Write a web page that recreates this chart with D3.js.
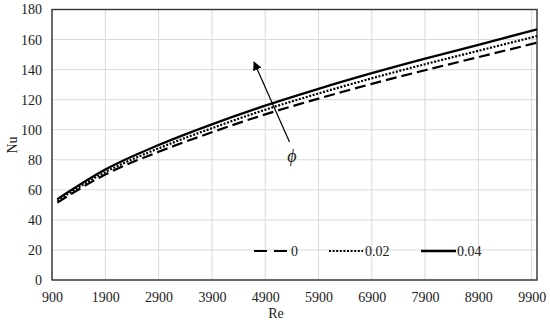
<!DOCTYPE html>
<html>
<head>
<meta charset="utf-8">
<script src="https://cdn.jsdelivr.net/npm/d3@7"></script>
<style>
  body { margin: 0; background: #fff; }
  svg text { font-family: 'Liberation Serif', serif; fill: #222; }
</style>
</head>
<body>
<div id="chart"></div>
<script>
// Reynolds number sample points
const re = [1000, 1900, 2900, 3900, 4900, 5900, 6900, 7900, 8900, 10000];
// Nu for each volume fraction phi
const nu0 = [51.5, 70.2, 85.3, 98.3, 110.2, 120.7, 130.5, 139.6, 148.3, 157.9];
const nu002 = [52.8, 71.8, 87.6, 101, 113.3, 124.1, 134.2, 143.6, 152.5, 162.3];
const nu004 = [53.8, 73.5, 89.8, 103.6, 116, 127.2, 137.6, 147.3, 156.5, 166.8];
const xTicks = [900, 1900, 2900, 3900, 4900, 5900, 6900, 7900, 8900, 9900];
const yTicks = [0, 20, 40, 60, 80, 100, 120, 140, 160, 180];
const seriesNames = ["0", "0.02", "0.04"];

const W = 550, H = 323;
const margin = { top: 9.5, right: 13, bottom: 43, left: 52 };

const svg = d3.select("#chart").append("svg")
  .attr("width", W).attr("height", H);

const x = d3.scaleLinear().domain([900, 10000]).range([margin.left, W - margin.right]);
const y = d3.scaleLinear().domain([0, 180]).range([H - margin.bottom, margin.top]);

// grid
svg.append("g").selectAll("line").data(yTicks).join("line")
  .attr("x1", x.range()[0]).attr("x2", x.range()[1])
  .attr("y1", d => y(d)).attr("y2", d => y(d))
  .attr("stroke", "#d9d9d9").attr("stroke-width", 1);
svg.append("g").selectAll("line").data(xTicks).join("line")
  .attr("x1", d => x(d)).attr("x2", d => x(d))
  .attr("y1", y.range()[0]).attr("y2", y.range()[1])
  .attr("stroke", "#d9d9d9").attr("stroke-width", 1);

// plot border
svg.append("rect")
  .attr("x", x.range()[0]).attr("y", y.range()[1])
  .attr("width", x.range()[1] - x.range()[0])
  .attr("height", y.range()[0] - y.range()[1])
  .attr("fill", "none").attr("stroke", "#333").attr("stroke-width", 1.4);

// axes (labels only)
const xAxis = svg.append("g")
  .attr("transform", `translate(0,${y.range()[0]})`)
  .call(d3.axisBottom(x).tickValues(xTicks).tickFormat(d3.format("d")).tickSize(0).tickPadding(12));
xAxis.select(".domain").remove();
xAxis.attr("font-family", null).attr("font-size", 14);

const yAxis = svg.append("g")
  .attr("transform", `translate(${x.range()[0]},0)`)
  .call(d3.axisLeft(y).tickValues(yTicks).tickSize(0).tickPadding(10));
yAxis.select(".domain").remove();
yAxis.attr("font-family", null).attr("font-size", 14);

svg.append("text").attr("x", 276).attr("y", 318).attr("text-anchor", "middle")
  .attr("font-size", 14).text("Re");
svg.append("text").attr("transform", "translate(17,145) rotate(-90)")
  .attr("text-anchor", "middle").attr("font-size", 14).text("Nu");

// series
const styles = [
  { data: nu0, dash: "11,5", width: 2.2 },
  { data: nu002, dash: "2,1.6", width: 2.2 },
  { data: nu004, dash: null, width: 2.3 }
];
const line = d3.line().x((d, i) => x(re[i])).y(d => y(d)).curve(d3.curveMonotoneX);

styles.forEach(s => {
  svg.append("path").datum(s.data)
    .attr("fill", "none").attr("stroke", "#000")
    .attr("stroke-width", s.width)
    .attr("stroke-dasharray", s.dash)
    .attr("d", line);
});

// legend
const legendY = 251;
const legendItems = [
  { x0: 254, x1: 290, lx: 291 },
  { x0: 329, x1: 363, lx: 365 },
  { x0: 421, x1: 456, lx: 457 }
];
legendItems.forEach((it, i) => {
  svg.append("line")
    .attr("x1", it.x0).attr("x2", it.x1)
    .attr("y1", legendY).attr("y2", legendY)
    .attr("stroke", "#000").attr("stroke-width", styles[i].width)
    .attr("stroke-dasharray", i === 0 ? "13,7" : styles[i].dash);
  svg.append("text").attr("x", it.lx).attr("y", legendY + 5)
    .attr("font-size", 14).text(seriesNames[i]);
});

// arrow indicating increasing phi
svg.append("defs").append("marker")
  .attr("id", "arr").attr("viewBox", "0 0 10 10")
  .attr("refX", 9).attr("refY", 5)
  .attr("markerWidth", 9).attr("markerHeight", 9)
  .attr("markerUnits", "userSpaceOnUse")
  .attr("orient", "auto")
  .append("path").attr("d", "M0,0 L10,5 L0,10 Z").attr("fill", "#000");
svg.append("line")
  .attr("x1", 289.5).attr("y1", 142).attr("x2", 254).attr("y2", 62)
  .attr("stroke", "#000").attr("stroke-width", 1.2)
  .attr("marker-end", "url(#arr)");
svg.append("text").attr("x", 292).attr("y", 162)
  .attr("text-anchor", "middle").attr("font-size", 18)
  .attr("font-style", "italic").text("\u03d5");
</script>
</body>
</html>
